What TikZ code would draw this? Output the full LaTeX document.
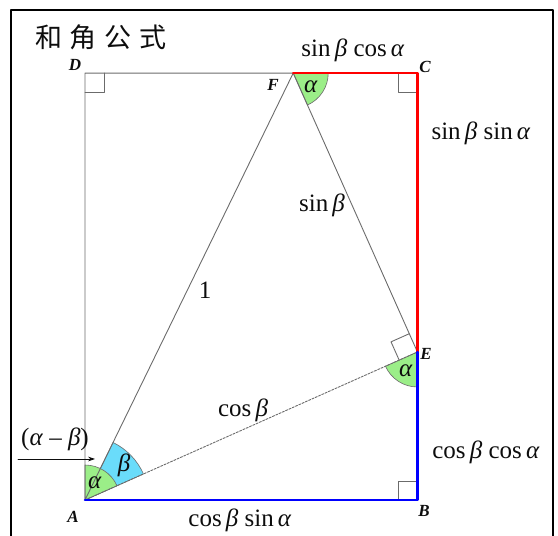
\documentclass[tikz,border=0pt]{standalone}
\usepackage{fontspec}
\setmainfont{Liberation Serif}
\newfontfamily\cjkfont{Noto Sans CJK SC}
\usepackage{tikz}
\usetikzlibrary{arrows.meta,calc}
\definecolor{SumInk}{gray}{0.05}
\definecolor{SumGuide}{gray}{0.42}
\definecolor{SumAlpha}{HTML}{9BEE88}
\definecolor{SumBeta}{HTML}{6ADCFA}
\newcommand{\Alf}{\textit{α}}
\newcommand{\Bet}{\textit{β}}
\tikzset{
    sum/diagram/.style={
        x=1pt, y=1pt,
        font=\fontsize{25}{28}\selectfont,
        text=SumInk,
        line cap=round,
        line join=round,
        every node/.style={inner sep=1pt, outer sep=0pt}
    },
    sum/frame/.style={draw=black, line width=2.4pt},
    sum/edge/.style={draw=SumGuide, line width=0.9pt},
    sum/hidden/.style={draw=SumGuide, line width=0.9pt,
        dash pattern=on 2.2pt off 1.4pt},
    sum/sine/.style={draw=red, line width=2.6pt},
    sum/cosine/.style={draw=blue, line width=2.6pt},
    sum/corner/.style={draw=SumGuide, line width=0.9pt},
    sum/alpha/.style={fill=SumAlpha, draw=SumGuide, line width=0.6pt},
    sum/beta/.style={fill=SumBeta, draw=SumGuide, line width=0.6pt},
    sum/point/.style={font=\fontsize{17}{19}\selectfont\bfseries\itshape},
    sum/title/.style={font=\fontsize{27}{30}\selectfont\cjkfont},
    sum/leader/.style={draw=SumInk, line width=0.7pt,
        -{Stealth[length=2.4mm, width=1.6mm]}}
}

\begin{document}
\begin{tikzpicture}[sum/diagram]
    \useasboundingbox (0,0) rectangle (558,536);
    \draw[sum/frame] (11,-10) rectangle (553,526);
    \coordinate (A) at (85,36);
    \coordinate (E) at ($(A)+(24:363.9)$);
    \coordinate (F) at ($(A)+(64:475)$);
    \coordinate (B) at (A -| E);
    \coordinate (C) at (F -| E);
    \coordinate (D) at (F -| A);
    \coordinate (e1) at ($(E)!20pt!(F)$);
    \coordinate (e2) at ($(E)!20pt!(A)$);
    \coordinate (tail) at (18,77);
    \coordinate (tip) at (95,77);
    \draw[sum/beta] (A) -- ++(24:64) arc[start angle=24, end angle=64, radius=64] -- cycle;
    \draw[sum/alpha] (A) -- ++(24:35) arc[start angle=24, end angle=90, radius=35] -- cycle;
    \draw[sum/alpha] (F) -- ++(-66:35) arc[start angle=-66, end angle=0, radius=35] -- cycle;
    \draw[sum/alpha] (E) -- ++(204:35) arc[start angle=204, end angle=270, radius=35] -- cycle;
    \draw[sum/corner] ($(D)+(0,-19)$) -| ($(D)+(19,0)$);
    \draw[sum/corner] ($(C)+(-19,0)$) |- ($(C)+(0,-19)$);
    \draw[sum/corner] ($(B)+(-19,0)$) |- ($(B)+(0,19)$);
    \draw[sum/corner] (e1) -- ($(e1)+(e2)-(E)$) -- (e2);
    \draw[sum/edge] (A) -- (D) -- (F) -- (A);
    \draw[sum/edge] (F) -- (E);
    \draw[sum/hidden] (A) -- (E);
    \draw[sum/sine] (F) -- (C) -- (E);
    \draw[sum/cosine] (E) -- (B) -- (A);
    \draw[sum/leader] (tail) -- (tip);
    \node[sum/title] (title) at (101,499) {和\hspace{8pt}角\hspace{8pt}公\hspace{8pt}式};
    \node[sum/point] (lA) at (73,19) {A};
    \node[sum/point] (lB) at (424,25) {B};
    \node[sum/point] (lC) at (425,469) {C};
    \node[sum/point] (lD) at (75,471) {D};
    \node[sum/point] (lE) at (426,182) {E};
    \node[sum/point] (lF) at (273,451) {F};
    \node (aA) at (95,53) {\Alf};
    \node (bA) at (124,71) {\Bet};
    \node (aF) at (311,449) {\Alf};
    \node (aE) at (406,165) {\Alf};
    \node (lAF) at (205,246) {1};
    \node (lFE) at (322,331) {sin\,\Bet};
    \node (lAE) at (243,126) {cos\,\Bet};
    \node (lFC) at (353,486) {sin\,\Bet\ cos\,\Alf};
    \node (lCE) at (481,403) {sin\,\Bet\ sin\,\Alf};
    \node (lEB) at (486,84) {cos\,\Bet\ cos\,\Alf};
    \node (lBA) at (240,16) {cos\,\Bet\ sin\,\Alf};
    \node (ldiff) at (55,97) {(\Alf\ – \Bet)};
\end{tikzpicture}
\end{document}
